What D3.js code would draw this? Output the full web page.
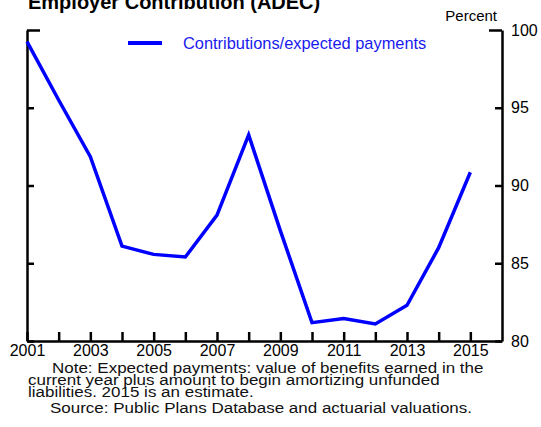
<!DOCTYPE html>
<html>
<head>
<meta charset="utf-8">
<script src="https://cdn.jsdelivr.net/npm/d3@7"></script>
<style>
  body { margin: 0; background: #fff; }
  svg { display: block; font-family: "Liberation Sans", Arial, sans-serif; }
</style>
</head>
<body>
<div id="chart"></div>
<script>
// values
const years = [2001, 2002, 2003, 2004, 2005, 2006, 2007, 2008, 2009, 2010, 2011, 2012, 2013, 2014, 2015];
const ratio = [99.25, 95.5, 91.85, 86.1, 85.57, 85.4, 88.1, 93.25, 87.1, 81.18, 81.45, 81.1, 82.3, 86.0, 90.85];
const yTicks = [80, 85, 90, 95, 100];
const xLabelYears = [2001, 2003, 2005, 2007, 2009, 2011, 2013, 2015];
const noteLines = [
  "Note: Expected payments: value of benefits earned in the",
  "current year plus amount to begin amortizing unfunded",
  "liabilities. 2015 is an estimate.",
  "Source: Public Plans Database and actuarial valuations."
];

const W = 541, H = 427;
const plotL = 27, plotR = 502, plotT = 30, plotB = 341;

const svg = d3.select("#chart").append("svg")
  .attr("width", W).attr("height", H);

const x = d3.scaleLinear().domain([2001, 2016]).range([plotL, plotR]);
const y = d3.scaleLinear().domain([80, 100]).range([plotB, plotT]);

// title (cut off at top, as in the source)
svg.append("text")
  .attr("x", 28).attr("y", 9)
  .attr("font-size", 20).attr("font-weight", "bold")
  .text("Employer Contribution (ADEC)");

svg.append("text")
  .attr("x", 497).attr("y", 21)
  .attr("text-anchor", "end")
  .attr("font-size", 15)
  .text("Percent");

// left axis: ticks pointing inward, no labels
const leftAxis = svg.append("g")
  .attr("transform", "translate(" + plotL + ",0)")
  .call(d3.axisRight(y).tickValues(yTicks).tickSize(7).tickSizeOuter(0).tickFormat(""));

// right axis ticks inward
const rightAxis = svg.append("g")
  .attr("transform", "translate(" + plotR + ",0)")
  .call(d3.axisLeft(y).tickValues(yTicks).tickSize(7).tickSizeOuter(0).tickFormat(""));

// right axis labels outside
svg.append("g")
  .attr("transform", "translate(" + plotR + ",0)")
  .call(d3.axisRight(y).tickValues(yTicks).tickSize(0).tickPadding(9))
  .call(g => g.select(".domain").remove())
  .selectAll("text")
  .attr("font-size", 16)
  .attr("font-family", "Liberation Sans, Arial, sans-serif")
  .attr("fill", "#000");

// bottom axis: ticks pointing up
const botAxis = svg.append("g")
  .attr("transform", "translate(0," + plotB + ")")
  .call(d3.axisTop(x).tickValues(years).tickSize(9).tickSizeOuter(0).tickFormat(""));

svg.append("g")
  .attr("transform", "translate(0," + plotB + ")")
  .call(d3.axisBottom(x).tickValues(xLabelYears).tickSize(0).tickPadding(4).tickFormat(d3.format("d")))
  .call(g => g.select(".domain").remove())
  .selectAll("text")
  .attr("font-size", 16)
  .attr("font-family", "Liberation Sans, Arial, sans-serif")
  .attr("fill", "#000");

[leftAxis, rightAxis, botAxis].forEach(function(g) {
  g.selectAll("path, line").attr("stroke", "#000").attr("stroke-width", 2.5);
});

// longer ticks at the top corners
leftAxis.selectAll(".tick").filter(d => d === 100).select("line").attr("x2", 13);
rightAxis.selectAll(".tick").filter(d => d === 100).select("line").attr("x2", -13);

// data line
const line = d3.line()
  .x((d, i) => x(years[i]))
  .y(d => y(d));

svg.append("path")
  .datum(ratio)
  .attr("fill", "none")
  .attr("stroke", "#0000ff")
  .attr("stroke-width", 3.5)
  .attr("stroke-linejoin", "miter")
  .attr("d", line);

// legend
svg.append("line")
  .attr("x1", 128).attr("x2", 162)
  .attr("y1", 43).attr("y2", 43)
  .attr("stroke", "#0000ff").attr("stroke-width", 4);

svg.append("text")
  .attr("x", 183).attr("y", 49)
  .attr("font-size", 16.4)
  .attr("fill", "#1a1aee")
  .text("Contributions/expected payments");

// notes (the source text is a bit wide, so stretch it sideways)
const noteX = [52, 28, 28, 50];
const noteY = [373, 385, 397, 413];
svg.selectAll(".note")
  .data(noteLines)
  .enter().append("text")
  .attr("class", "note")
  .attr("transform", (d, i) => "translate(" + noteX[i] + "," + noteY[i] + ") scale(1.097,1)")
  .attr("font-size", 15.5)
  .attr("fill", "#111")
  .text(d => d);
</script>
</body>
</html>
